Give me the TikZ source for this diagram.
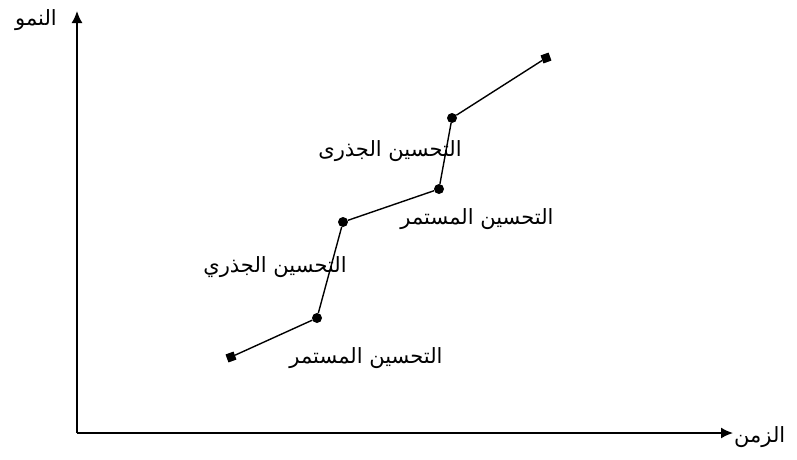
\documentclass[tikz,border=0pt]{standalone}
\usepackage{fontspec}
\newfontfamily\arabicfont[Script=Arabic]{DejaVu Sans}
\TeXXeTstate=1
\usetikzlibrary{arrows.meta}

\begin{document}
\begin{tikzpicture}[x=1pt,y=-1pt,>={Latex[length=12pt,width=11pt]},
  dot/.style={circle,fill=black,inner sep=0pt,minimum size=10pt},
  endsq/.style={rectangle,fill=black,inner sep=0pt,minimum size=8.5pt,rotate=20},
  lbl/.style={font=\arabicfont\fontsize{21}{25}\selectfont,inner sep=0pt},
  axis/.style={->,line width=1.6pt},
  link/.style={line width=1.4pt}]
  \useasboundingbox (0,0) rectangle (797,459);
  % axes
  \coordinate (origin) at (77,433);
  \coordinate (ytop) at (77,11);
  \coordinate (xend) at (733,433);
  \draw[axis] (origin) -- (ytop);
  \draw[axis] (origin) -- (xend);
  \node[lbl,anchor=east] (ylbl) at (57,20) {\beginR النمو\endR};
  \node[lbl,anchor=west] (xlbl) at (734,437) {\beginR الزمن\endR};
  % growth path
  \node[endsq] (p0) at (231,357) {};
  \foreach \n/\x/\y in {1/317/318,2/343/222,3/439/189,4/452/118}{
    \node[dot] (p\n) at (\x,\y) {};
  }
  \node[endsq] (p5) at (546,58) {};
  \foreach \a/\b in {0/1,1/2,2/3,3/4,4/5}{
    \draw[link] (p\a) -- (p\b);
  }
  % labels
  \node[lbl] (c1) at (366,358) {\beginR التحسين المستمر\endR};
  \node[lbl] (r1) at (275,267) {\beginR التحسين الجذري\endR};
  \node[lbl] (c2) at (477,219) {\beginR التحسين المستمر\endR};
  \node[lbl] (r2) at (390,151) {\beginR التحسين الجذرى\endR};
\end{tikzpicture}
\end{document}
